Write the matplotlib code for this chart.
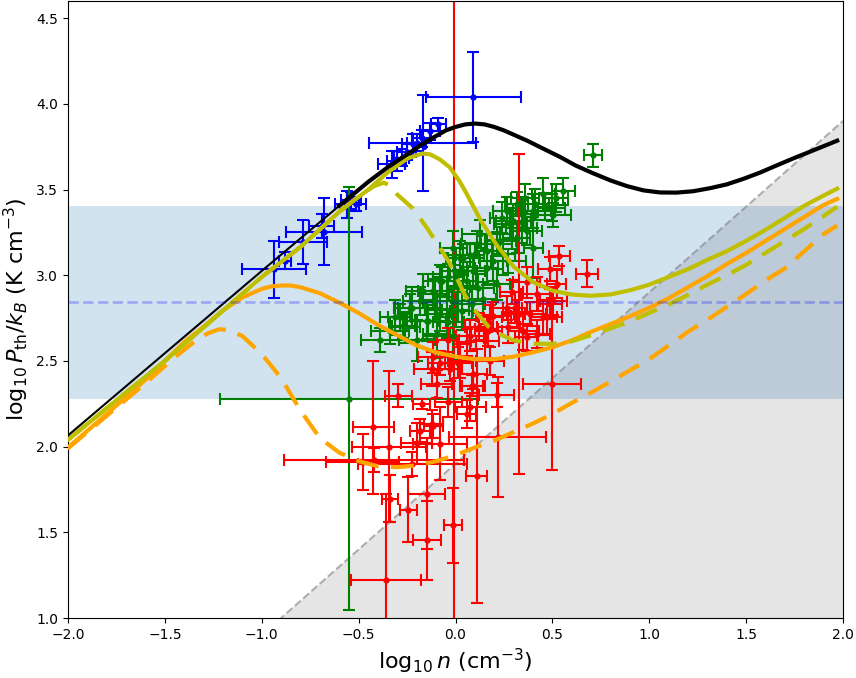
import numpy as np
import matplotlib.pyplot as plt

# ---- model curves (log10 n, log10 P/k) ----
black_x = [-2.0, -1.5, -1.0, -0.8, -0.6, -0.45, -0.35, -0.25, -0.15, -0.05, 0.0, 0.05, 0.1, 0.15,
           0.2, 0.25, 0.3, 0.37, 0.45, 0.54, 0.62, 0.71, 0.8, 0.885, 0.97, 1.055, 1.14, 1.226,
           1.31, 1.40, 1.485, 1.57, 1.65, 1.74, 1.85, 1.97]
black_y = [2.065, 2.545, 3.025, 3.215, 3.405, 3.545, 3.63, 3.705, 3.78, 3.845, 3.865, 3.88, 3.885,
           3.88, 3.865, 3.845, 3.82, 3.785, 3.74, 3.69, 3.64, 3.595, 3.553, 3.52, 3.495, 3.483,
           3.482, 3.49, 3.507, 3.53, 3.562, 3.598, 3.637, 3.68, 3.73, 3.785]

yel_x = [-2.0, -1.5, -1.0, -0.8, -0.6, -0.45, -0.35, -0.25, -0.2, -0.17, -0.13, -0.08, -0.03,
         0.02, 0.06, 0.13, 0.21, 0.3, 0.4, 0.5, 0.6, 0.7, 0.8, 0.9, 1.0, 1.1, 1.2, 1.3, 1.4,
         1.5, 1.6, 1.7, 1.8, 1.9, 1.97]
yel_y = [2.04, 2.50, 2.99, 3.165, 3.37, 3.50, 3.60, 3.68, 3.70, 3.71, 3.705, 3.675, 3.63,
         3.55, 3.47, 3.32, 3.18, 3.05, 2.96, 2.91, 2.887, 2.88, 2.888, 2.912, 2.945, 2.99,
         3.035, 3.09, 3.14, 3.20, 3.265, 3.335, 3.405, 3.465, 3.505]

yel_d_x = [-2.0, -1.5, -1.0, -0.8, -0.6, -0.5, -0.42, -0.37, -0.33, -0.3, -0.22, -0.15, -0.08,
           -0.03, 0.0, 0.05, 0.11, 0.17, 0.23, 0.3, 0.4, 0.5, 0.6, 0.7, 0.8, 0.9, 1.0, 1.1, 1.2,
           1.3, 1.4, 1.5, 1.6, 1.7, 1.8, 1.9, 1.97]
yel_d_y = [2.04, 2.50, 2.99, 3.165, 3.37, 3.46, 3.52, 3.54, 3.52, 3.47, 3.39, 3.28, 3.16,
           3.07, 3.0, 2.88, 2.78, 2.70, 2.655, 2.62, 2.60, 2.60, 2.615, 2.65, 2.69, 2.73, 2.78,
           2.83, 2.885, 2.945, 3.0, 3.06, 3.13, 3.20, 3.27, 3.345, 3.40]

org_x = [-2.0, -1.8, -1.6, -1.4, -1.3, -1.2, -1.1, -1.0, -0.95, -0.9, -0.85, -0.8, -0.7, -0.6,
         -0.5, -0.4, -0.3, -0.2, -0.1, 0.0, 0.1, 0.2, 0.3, 0.4, 0.5, 0.6, 0.7, 0.8, 0.9, 1.0,
         1.1, 1.2, 1.3, 1.4, 1.5, 1.6, 1.7, 1.8, 1.9, 1.97]
org_y = [1.995, 2.19, 2.39, 2.61, 2.70, 2.795, 2.87, 2.92, 2.935, 2.94, 2.94, 2.93, 2.895, 2.84,
         2.78, 2.71, 2.65, 2.59, 2.55, 2.525, 2.51, 2.51, 2.525, 2.55, 2.58, 2.62, 2.67, 2.715,
         2.76, 2.81, 2.865, 2.93, 2.995, 3.065, 3.13, 3.20, 3.27, 3.34, 3.41, 3.445]

org_d_x = [-2.0, -1.8, -1.6, -1.45, -1.35, -1.28, -1.22, -1.17, -1.1, -1.0, -0.9, -0.8, -0.7,
           -0.6, -0.5, -0.4, -0.3, -0.2, -0.1, 0.0, 0.1, 0.2, 0.3, 0.4, 0.5, 0.6, 0.7, 0.8, 0.9,
           1.0, 1.1, 1.2, 1.3, 1.4, 1.5, 1.6, 1.7, 1.8, 1.9, 1.97]
org_d_y = [1.99, 2.18, 2.37, 2.52, 2.61, 2.66, 2.685, 2.68, 2.645, 2.54, 2.40, 2.21, 2.05,
           1.965, 1.915, 1.885, 1.88, 1.89, 1.915, 1.95, 1.995, 2.035, 2.085, 2.135, 2.19, 2.255,
           2.315, 2.38, 2.445, 2.51, 2.59, 2.67, 2.74, 2.815, 2.89, 2.97, 3.04, 3.14, 3.24, 3.29]

# ---- observations: x, y, xerr, yerr ----
blue_x = [-0.937, -0.88, -0.786, -0.69, -0.679, -0.562, -0.539, -0.514, -0.33, -0.304, -0.278,
          -0.252, -0.218, -0.2, -0.17, -0.175, -0.132, -0.089, 0.092]
blue_y = [3.035, 3.084, 3.194, 3.287, 3.254, 3.414, 3.437, 3.417, 3.647, 3.666, 3.685,
          3.72, 3.763, 3.772, 3.77, 3.80, 3.84, 3.88, 4.04]
blue_xe = [0.165, 0.03, 0.125, 0.065, 0.198, 0.062, 0.05, 0.05, 0.069, 0.05, 0.04,
           0.05, 0.06, 0.05, 0.275, 0.05, 0.05, 0.04, 0.245]
blue_ye = [0.165, 0.05, 0.126, 0.07, 0.197, 0.078, 0.05, 0.04, 0.078, 0.06, 0.05,
           0.05, 0.06, 0.05, 0.28, 0.05, 0.05, 0.04, 0.26]

green_x = [-0.548, 0.711, -0.338, -0.312, -0.269, -0.226, -0.183, -0.14, -0.115, -0.071, -0.045,
           -0.02, -0.003, 0.015, 0.04, 0.058, 0.075, 0.092, 0.126, 0.161, 0.195, 0.213, 0.238,
           0.264, 0.298, 0.316, 0.342, 0.359, 0.402, 0.453, 0.496, 0.556, 0.402, -0.011, -0.261,
           -0.286, -0.149, -0.106, -0.08, -0.037, -0.011, 0.04, 0.118, 0.161, 0.213, 0.273, 0.032,
           0.084, -0.037, -0.166, 0.462, 0.41, 0.505, 0.35, 0.367, 0.316, 0.247, 0.109, 0.023,
           -0.08, -0.235, -0.149, -0.097, 0.23, -0.39, -0.2, 0.0, 0.28, 0.52, 0.14]
green_y = [2.28, 3.70, 2.676, 2.754, 2.705, 2.81, 2.85, 2.735, 2.91, 2.967, 2.754,
           2.85, 3.026, 2.93, 3.10, 2.967, 3.12, 3.026, 3.24, 3.14, 3.084, 3.18, 3.336,
           3.375, 3.317, 3.414, 3.278, 3.452, 3.375, 3.472, 3.394, 3.49, 3.161, 3.16, 2.696,
           2.754, 2.735, 2.89, 2.774, 2.725, 2.647, 3.026, 2.928, 3.045, 2.948, 3.084, 2.793,
           2.832, 2.987, 2.91, 3.40, 3.414, 3.35, 3.356, 3.258, 3.22, 3.123, 3.18, 3.10,
           2.967, 2.81, 2.735, 2.657, 3.20, 2.62, 2.62, 2.80, 3.30, 3.45, 2.86]
green_xe = [0.665, 0.047, 0.10, 0.08, 0.06, 0.07, 0.09, 0.06, 0.08, 0.07, 0.06,
            0.09, 0.07, 0.06, 0.08, 0.05, 0.07, 0.06, 0.09, 0.06, 0.07, 0.08, 0.06,
            0.07, 0.09, 0.06, 0.08, 0.07, 0.09, 0.06, 0.07, 0.06, 0.05, 0.07, 0.08,
            0.06, 0.10, 0.07, 0.06, 0.08, 0.09, 0.07, 0.08, 0.06, 0.07, 0.09, 0.06,
            0.07, 0.08, 0.09, 0.05, 0.07, 0.09, 0.06, 0.08, 0.07, 0.06, 0.08, 0.07,
            0.09, 0.08, 0.06, 0.07, 0.08, 0.10, 0.09, 0.07, 0.08, 0.06, 0.07]
green_ye = [1.235, 0.068, 0.08, 0.10, 0.07, 0.12, 0.08, 0.09, 0.10, 0.08, 0.12,
            0.07, 0.09, 0.10, 0.08, 0.11, 0.07, 0.09, 0.08, 0.10, 0.12, 0.07, 0.09,
            0.08, 0.10, 0.07, 0.09, 0.08, 0.10, 0.097, 0.08, 0.078, 0.18, 0.10, 0.09,
            0.08, 0.12, 0.09, 0.10, 0.08, 0.14, 0.09, 0.08, 0.10, 0.09, 0.07, 0.11,
            0.09, 0.08, 0.10, 0.08, 0.09, 0.07, 0.10, 0.08, 0.09, 0.12, 0.08, 0.10,
            0.09, 0.08, 0.11, 0.14, 0.08, 0.07, 0.12, 0.10, 0.09, 0.08, 0.10]

red_x = [-0.295, -0.175, -0.424, -0.342, -0.479, -0.42, -0.223, -0.338, -0.243, -0.149, -0.146,
         -0.359, -0.011, 0.109, -0.08, -0.115, -0.183, 0.218, 0.092, 0.058, 0.497, 0.33,
         0.536, 0.68, 0.488, 0.522, 0.367, 0.29, 0.419, 0.505, 0.307, 0.385, 0.453, 0.195,
         0.273, 0.35, 0.419, 0.161, 0.075, 0.058, 0.023, -0.115, -0.08, 0.178, -0.123,
         -0.028, 0.092, -0.097, 0.084, -0.037, 0.075, 0.213, -0.123, 0.169, 0.178, 0.47,
         0.316, 0.488, 0.264, 0.152, 0.367, 0.015, -0.04, -0.20, 0.12]
red_y = [2.298, 2.25, 2.114, 2.0, 1.91, 1.924, 1.896, 1.697, 1.633, 1.726, 1.454,
         1.221, 1.541, 1.827, 2.017, 2.123, 2.094, 2.055, 2.356, 2.19, 2.366, 2.775,
         3.113, 3.01, 3.035, 2.95, 2.958, 2.90, 2.89, 2.85, 2.81, 2.774, 2.754, 2.764,
         2.696, 2.676, 2.657, 2.686, 2.647, 2.608, 2.50, 2.52, 2.49, 2.50, 2.453,
         2.453, 2.424, 2.366, 2.356, 2.26, 2.23, 2.30, 2.133, 2.676, 2.754, 2.754,
         2.774, 2.832, 2.81, 2.618, 2.637, 2.49, 2.62, 2.02, 2.70]
red_xe = [0.069, 0.043, 0.107, 0.19, 0.187, 0.465, 0.28, 0.04, 0.043, 0.095, 0.073,
          0.18, 0.047, 0.053, 0.138, 0.05, 0.05, 0.25, 0.06, 0.05, 0.15, 0.03,
          0.056, 0.056, 0.06, 0.05, 0.07, 0.06, 0.08, 0.07, 0.06, 0.08, 0.07, 0.09,
          0.06, 0.08, 0.07, 0.06, 0.07, 0.05, 0.06, 0.08, 0.06, 0.07, 0.09,
          0.06, 0.07, 0.08, 0.06, 0.07, 0.08, 0.09, 0.06, 0.07, 0.06, 0.08,
          0.07, 0.06, 0.08, 0.07, 0.06, 0.07, 0.06, 0.08, 0.07]
red_ye = [0.068, 0.03, 0.388, 0.44, 0.165, 0.07, 0.07, 0.136, 0.19, 0.325, 0.23,
          0.50, 0.22, 0.74, 0.213, 0.07, 0.07, 0.35, 0.06, 0.08, 0.50, 0.935,
          0.06, 0.078, 0.07, 0.08, 0.09, 0.07, 0.10, 0.08, 0.09, 0.07, 0.10, 0.08,
          0.09, 0.11, 0.08, 0.07, 0.09, 0.08, 0.10, 0.09, 0.07, 0.08, 0.10,
          0.07, 0.09, 0.08, 0.06, 0.09, 0.08, 0.07, 0.08, 0.09, 0.07, 0.10,
          0.08, 0.09, 0.07, 0.10, 0.08, 0.09, 0.07, 0.12, 0.08]

band_lo, band_hi, band_mid = 2.275, 3.405, 2.845
n_split = -0.01
log_T = 1.9  # isotherm: log P = log n + log T

fig = plt.figure(figsize=(8.56, 6.78), dpi=100)
ax = fig.add_axes([68 / 856, 60 / 678, 775 / 856, 617 / 678])

ax.axhspan(band_lo, band_hi, color="C0", alpha=0.2, lw=0, zorder=0)
xs = np.array([-2.0, 2.0])
ax.fill_between(xs, xs + log_T, 0.0, color="k", alpha=0.1, lw=0, zorder=0)
ax.plot(xs, xs + log_T, "--", color="gray", alpha=0.6, lw=1.5, zorder=1)
ax.axvline(n_split, color="r", lw=1.5, zorder=1)

eb = dict(fmt="o", ms=3.5, elinewidth=1.5, capsize=4.5, capthick=1.5, zorder=2)
ax.errorbar(blue_x, blue_y, xerr=blue_xe, yerr=blue_ye, color="b", **eb)
ax.errorbar(green_x, green_y, xerr=green_xe, yerr=green_ye, color="g", **eb)
ax.errorbar(red_x, red_y, xerr=red_xe, yerr=red_ye, color="r", **eb)

dash = (5.5, 3)
ax.plot(org_d_x, org_d_y, "--", color="orange", lw=3, dashes=dash, zorder=3)
ax.plot(org_x, org_y, color="orange", lw=3, zorder=3)
ax.plot(yel_d_x, yel_d_y, "--", color="y", lw=3, dashes=dash, zorder=3)
ax.plot(yel_x, yel_y, color="y", lw=3, zorder=3)
ax.plot(black_x, black_y, color="k", lw=1.5, zorder=4)
bx = np.array(black_x)
thick = bx >= -0.6
ax.plot(bx[thick], np.array(black_y)[thick], color="k", lw=3, zorder=4)

ax.axhline(band_mid, color="b", ls="--", lw=2, alpha=0.25, zorder=5)

ax.set_xlim(-2, 2)
ax.set_ylim(1.0, 4.6)
ax.set_xlabel(r"$\log_{10}n$ (cm$^{-3}$)", fontsize=16)
ax.set_ylabel(r"$\log_{10}P_{\rm th}/k_B$ (K cm$^{-3}$)", fontsize=16)

fig.savefig("out.png", dpi=100)
